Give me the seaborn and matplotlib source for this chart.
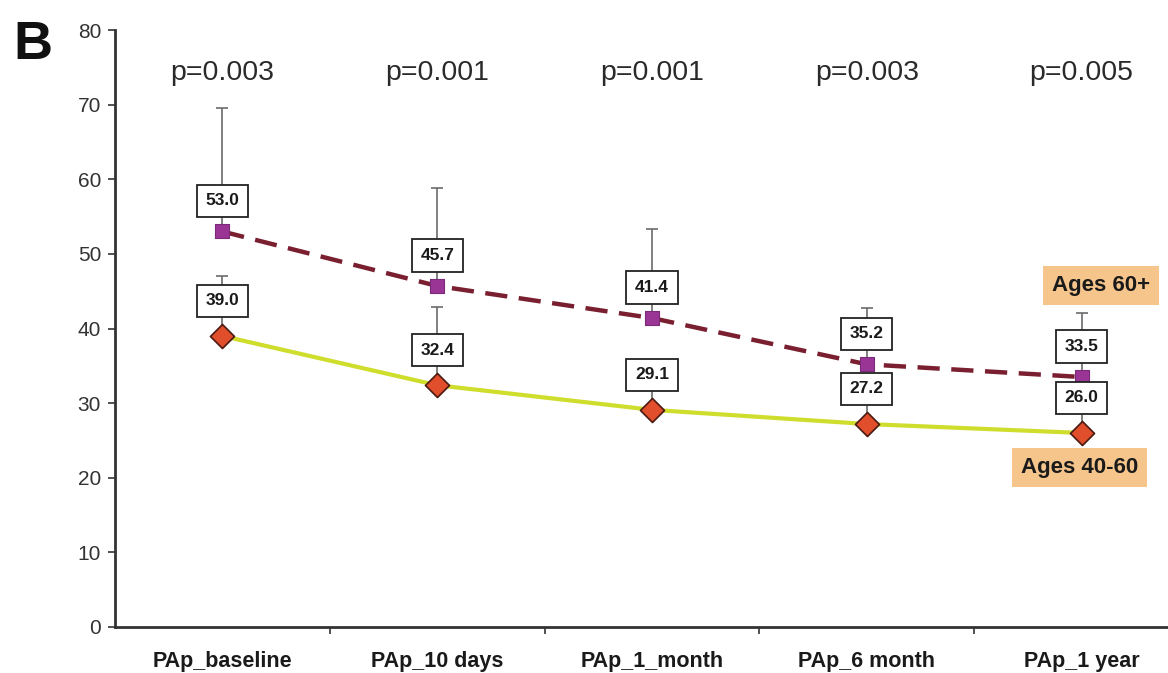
import matplotlib
matplotlib.use("Agg")
import matplotlib.pyplot as plt
import numpy as np
import pandas as pd
import seaborn as sns

# Pulmonary artery pressure over follow-up, by age group
timepoints = ["PAp_baseline", "PAp_10 days", "PAp_1_month", "PAp_6 month", "PAp_1 year"]
ages_60_plus = [53.0, 45.7, 41.4, 35.2, 33.5]
ages_40_60 = [39.0, 32.4, 29.1, 27.2, 26.0]
sd_60_plus = [16.5, 13.1, 12.0, 7.5, 8.6]
sd_40_60 = [8.0, 10.5, 6.0, 6.5, 6.0]
p_values = ["p=0.003", "p=0.001", "p=0.001", "p=0.003", "p=0.005"]
y_ticks = [0, 10, 20, 30, 40, 50, 60, 70, 80]

sns.set_theme(style="white")
plt.rcParams["font.family"] = ["Liberation Sans", "DejaVu Sans"]

df = pd.DataFrame({
    "timepoint": timepoints * 2,
    "PAp": ages_60_plus + ages_40_60,
    "group": ["Ages 60+"] * 5 + ["Ages 40-60"] * 5,
})

fig = plt.figure(figsize=(11.68, 6.73), dpi=100)
ax = fig.add_axes([115 / 1168, 46 / 673, 1074 / 1168, 597 / 673])

xpos = np.arange(len(timepoints))

# upper-only error whiskers
ax.errorbar(xpos, ages_60_plus, yerr=[np.zeros(5), sd_60_plus], fmt="none",
            ecolor="#6b6b6b", elinewidth=1.2, capsize=4, capthick=1.2, zorder=2)
ax.errorbar(xpos, ages_40_60, yerr=[np.zeros(5), sd_40_60], fmt="none",
            ecolor="#6b6b6b", elinewidth=1.2, capsize=4, capthick=1.2, zorder=2)

d60 = df[df["group"] == "Ages 60+"]
d40 = df[df["group"] == "Ages 40-60"]

sns.lineplot(data=d40, x="timepoint", y="PAp", ax=ax, sort=False,
             color="#cfdd2c", linewidth=3, zorder=3, legend=False)
sns.lineplot(data=d60, x="timepoint", y="PAp", ax=ax, sort=False,
             color="#7a1f30", linewidth=3.2, linestyle=(0, (5, 2.6)),
             zorder=3, legend=False)

ax.scatter(xpos, ages_40_60, marker="D", s=150, color="#e04e2c",
           edgecolor="#4a1a12", linewidth=1.2, zorder=5)
ax.scatter(xpos, ages_60_plus, marker="s", s=110, color="#9a3596",
           edgecolor="#7a2a78", linewidth=0.8, zorder=5)

# value boxes
box = dict(boxstyle="square,pad=0.5", facecolor="white", edgecolor="#222222",
           linewidth=1.3)
for i in range(5):
    ax.text(xpos[i], ages_60_plus[i] + 4.1, f"{ages_60_plus[i]:.1f}",
            ha="center", va="center", fontsize=12.5, fontweight="bold",
            color="#1a1a1a", bbox=box, zorder=6)
    ax.text(xpos[i], ages_40_60[i] + 4.7, f"{ages_40_60[i]:.1f}",
            ha="center", va="center", fontsize=12.5, fontweight="bold",
            color="#1a1a1a", bbox=box, zorder=6)

# p-values along the top
for i, p in enumerate(p_values):
    ax.text(xpos[i], 74.3, p, ha="center", va="center", fontsize=20.5,
            color="#2a2a2a", zorder=6)

# group labels
tag = dict(boxstyle="square,pad=0.4", facecolor="#f5c58c", edgecolor="none")
ax.text(4.09, 45.8, "Ages 60+", ha="center", va="center", fontsize=16,
        fontweight="bold", color="#1a1a1a", bbox=tag, zorder=7)
ax.text(3.99, 21.4, "Ages 40-60", ha="center", va="center", fontsize=16,
        fontweight="bold", color="#1a1a1a", bbox=tag, zorder=7)

ax.set_xlim(-0.5, 4.5)
ax.set_ylim(0, 80)
ax.set_yticks(y_ticks)
ax.set_xticks(xpos)
ax.set_xticklabels(timepoints, fontsize=15.5, fontweight="bold", color="#1a1a1a")
ax.set_xticks(xpos[:-1] + 0.5, minor=True)
ax.tick_params(axis="x", which="major", length=0, pad=17)
ax.tick_params(axis="x", which="minor", length=5, width=1.2, color="#333333",
               direction="out", bottom=True)
ax.tick_params(axis="y", length=5, width=1.2, color="#333333", direction="out",
               left=True, labelsize=15, labelcolor="#333333", pad=5)
ax.set_xlabel("")
ax.set_ylabel("")

for s in ["top", "right"]:
    ax.spines[s].set_visible(False)
for s in ["left", "bottom"]:
    ax.spines[s].set_color("#333333")
    ax.spines[s].set_linewidth(2)

fig.text(13 / 1168, 1 - 20 / 673, "B", ha="left", va="top", fontsize=39,
         fontweight="bold", color="#111111")

fig.savefig("out.png", dpi=100)
